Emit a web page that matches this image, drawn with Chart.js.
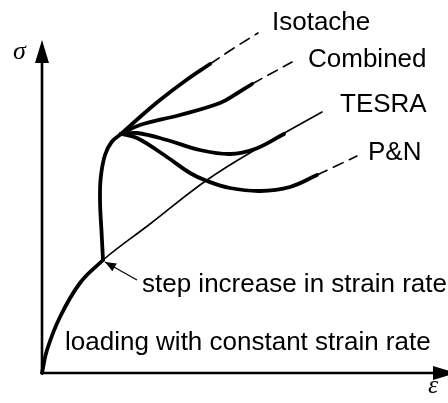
<!DOCTYPE html>
<html>
<head>
<title>Step increase in strain rate</title>
<script src="https://cdn.jsdelivr.net/npm/chart.js"></script>
<style>
  body { margin: 0; background: #fff; }
  canvas { display: block; }
</style>
</head>
<body>
<canvas id="sketch" width="448" height="403"></canvas>
<script>
// strain (x) / stress (y), arbitrary units
var refStrain = [0, 1.25, 4.5, 9.5, 15.25, 27, 41.25, 54.5, 70];
var refStress = [0, 5.75, 14, 22.5, 28.25, 37.25, 48.25, 56.5, 65.25];

var loadStrain = [0, 1.25, 4.5, 9.5, 15.25];
var loadStress = [0, 5.75, 14, 22.5, 28.25];

var stepStrain = [15.25, 14.9, 14.5, 14.7, 15.75, 17.4, 19.75];
var stepStress = [28.25, 35, 43.25, 49, 54.5, 57.75, 59.75];

var isoStrain = [19.75, 24.5, 29.5, 35.75, 42];
var isoStress = [59.75, 64, 68.25, 73, 77.25];
var isoExtStrain = [42, 48, 54];
var isoExtStress = [77.25, 81.25, 85];

var combStrain = [19.75, 24.5, 34.5, 44.5, 48.5, 52.5];
var combStress = [59.75, 62, 64.5, 67.5, 69.75, 72.25];
var combExtStrain = [52.5, 62.5];
var combExtStress = [72.25, 77.75];

var tesraStrain = [19.75, 23.75, 31.25, 39.5, 47, 53.25, 60.5];
var tesraStress = [59.75, 60, 58.25, 55.75, 54.75, 56, 59.75];

var pnStrain = [19.75, 23.75, 31.25, 37, 41.25, 47, 54.5, 62, 68.75];
var pnStress = [59.75, 58.75, 54, 50, 48, 46.25, 45.5, 46.5, 49.5];
var pnExtStrain = [68.75, 78.75];
var pnExtStress = [49.5, 54.25];

var labels = ['Isotache', 'Combined', 'TESRA', 'P&N',
              'step increase in strain rate', 'loading with constant strain rate'];
var labelAt = [[57.5, 85.75], [66.5, 76.5], [74.5, 65.25], [81.5, 53.25],
               [25, 20.25], [5.75, 5.75]];

function pts(xs, ys) {
    return xs.map(function (x, i) { return { x: x, y: ys[i] }; });
}

function curve(xs, ys, width, dash) {
    return {
        data: pts(xs, ys),
        showLine: true,
        borderColor: '#000',
        borderWidth: width,
        borderDash: dash || [],
        pointRadius: 0,
        tension: 0.4,
        borderCapStyle: 'round'
    };
}

function arrowHead(ctx, tx, ty, fx, fy, len, half) {
    var a = Math.atan2(ty - fy, tx - fx);
    ctx.beginPath();
    ctx.moveTo(tx, ty);
    ctx.lineTo(tx - len * Math.cos(a) + half * Math.sin(a), ty - len * Math.sin(a) - half * Math.cos(a));
    ctx.lineTo(tx - len * Math.cos(a) - half * Math.sin(a), ty - len * Math.sin(a) + half * Math.cos(a));
    ctx.closePath();
    ctx.fill();
}

var sketchPlugin = {
    id: 'sketch',
    beforeDatasetsDraw: function (chart) {
        var ctx = chart.ctx, xs = chart.scales.x, ys = chart.scales.y;
        var ox = xs.getPixelForValue(0), oy = ys.getPixelForValue(0);
        var top = ys.getPixelForValue(83.25), right = xs.getPixelForValue(103.5);
        ctx.save();
        ctx.strokeStyle = '#000';
        ctx.fillStyle = '#000';
        ctx.lineWidth = 2.6;
        ctx.beginPath();
        ctx.moveTo(ox, top + 10);
        ctx.lineTo(ox, oy);
        ctx.lineTo(right - 10, oy);
        ctx.stroke();
        arrowHead(ctx, ox, top, ox, oy, 23, 7);
        arrowHead(ctx, right, oy, ox, oy, 23, 7);
        ctx.restore();
    },
    afterDatasetsDraw: function (chart) {
        var ctx = chart.ctx, xs = chart.scales.x, ys = chart.scales.y;
        ctx.save();
        ctx.fillStyle = '#000';
        ctx.strokeStyle = '#000';
        ctx.textBaseline = 'alphabetic';
        ctx.font = '26px "Liberation Sans", Arial, sans-serif';
        labels.forEach(function (t, i) {
            ctx.fillText(t, xs.getPixelForValue(labelAt[i][0]), ys.getPixelForValue(labelAt[i][1]));
        });
        ctx.font = 'italic 26px "Liberation Serif", "Times New Roman", serif';
        ctx.fillText('\u03C3', xs.getPixelForValue(-7.25), ys.getPixelForValue(78.5));
        ctx.fillText('\u03B5', xs.getPixelForValue(96.5), ys.getPixelForValue(-5));

        // pointer to the step increase
        var fx = xs.getPixelForValue(23.75), fy = ys.getPixelForValue(23.25);
        var tx = xs.getPixelForValue(15.75), ty = ys.getPixelForValue(27.75);
        ctx.lineWidth = 1.2;
        ctx.beginPath();
        ctx.moveTo(fx, fy);
        ctx.lineTo(tx, ty);
        ctx.stroke();
        arrowHead(ctx, tx, ty, fx, fy, 11, 4.5);
        ctx.restore();
    }
};

var ctx = document.getElementById('sketch').getContext('2d');
var sketchChart = new Chart(ctx, {
    type: 'scatter',
    data: {
        datasets: [
            curve(refStrain, refStress, 1.6),
            curve(loadStrain, loadStress, 3.8),
            curve(stepStrain, stepStress, 3.8),
            curve(isoStrain, isoStress, 3.8),
            curve(isoExtStrain, isoExtStress, 1.6, [11, 7]),
            curve(combStrain, combStress, 3.8),
            curve(combExtStrain, combExtStress, 1.6, [11, 7]),
            curve(tesraStrain, tesraStress, 3.8),
            curve(pnStrain, pnStress, 3.8),
            curve(pnExtStrain, pnExtStress, 1.6, [11, 7])
        ]
    },
    options: {
        responsive: false,
        animation: false,
        layout: { padding: 0 },
        plugins: { legend: { display: false }, tooltip: { enabled: false } },
        scales: {
            x: { type: 'linear', display: false, min: -10.5, max: 101.5 },
            y: { type: 'linear', display: false, min: -7.5, max: 93.25 }
        }
    },
    plugins: [sketchPlugin]
});
</script>
</body>
</html>
